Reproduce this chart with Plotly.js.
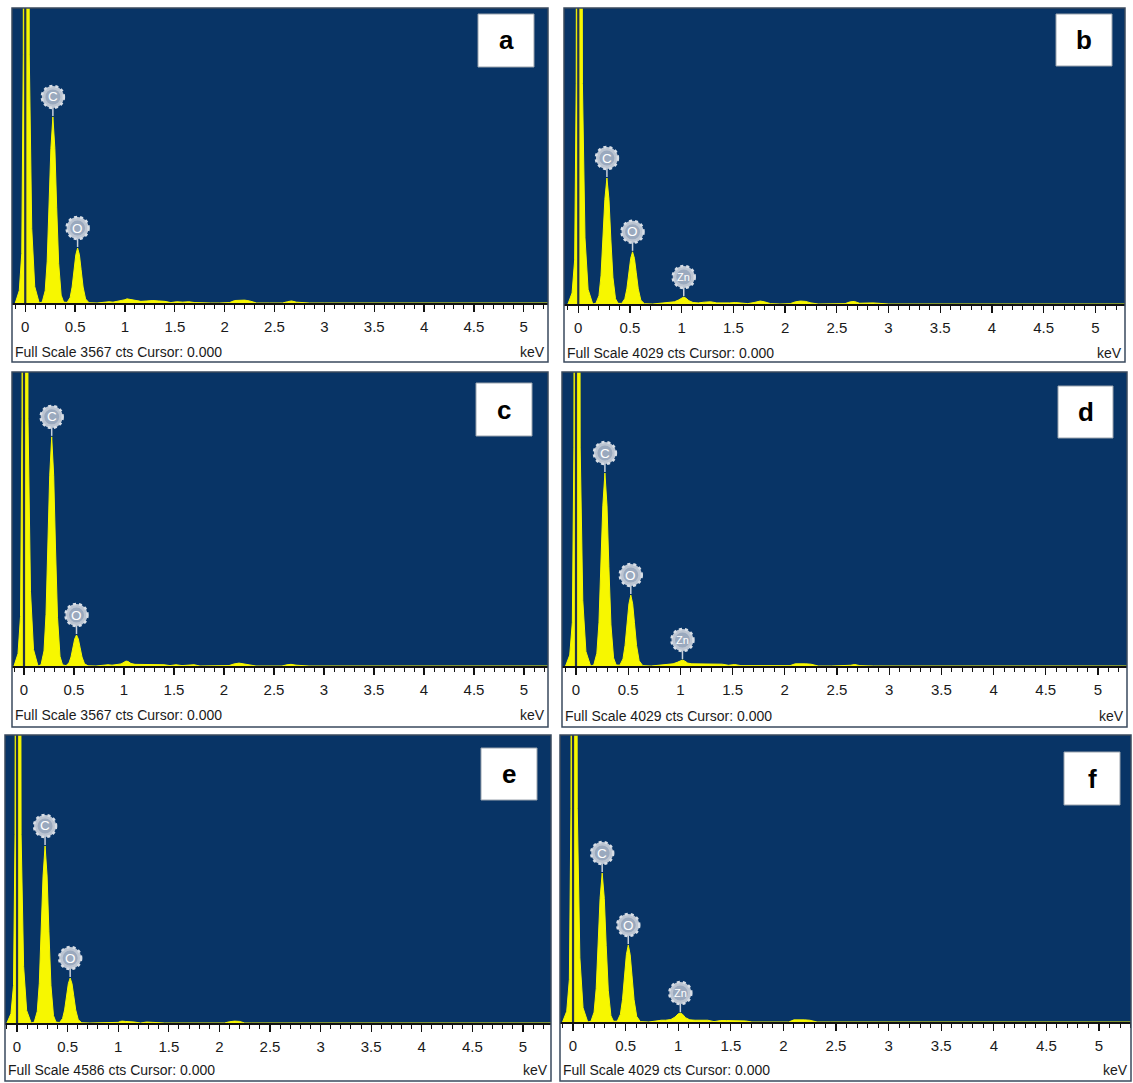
<!DOCTYPE html>
<html><head><meta charset="utf-8">
<script src="https://cdn.plot.ly/plotly-3.0.1.min.js"></script>
<style>html,body{margin:0;padding:0;background:#fff}#chart{width:1133px;height:1083px}</style>
</head><body><div id="chart"></div>
<script>
// ---- DATA (energy in keV, counts in cts) ----
const energy = [
 -0.10,-0.06,-0.035,-0.02,-0.008,0.01,0.028,0.04,0.065,0.095,0.14,
 0.17,0.20,0.22,0.24,0.257,0.277,0.297,0.315,0.335,0.36,0.385,
 0.42,0.45,0.47,0.49,0.507,0.525,0.543,0.56,0.58,0.605,0.64,
 0.72,0.80,0.84,0.88,0.93,0.97,1.0,1.02,1.04,1.07,1.11,1.16,1.22,1.28,1.34,1.40,1.46,1.52,1.58,1.64,
 1.70,1.76,1.80,1.86,1.95,2.05,2.10,2.15,2.20,2.25,2.32,2.45,2.58,2.63,2.67,2.72,2.85,3.0,3.5,4.0,4.5,5.0,5.3
];
const countsA = [
 0,150,600,3000,15000,40000,15000,3000,900,200,0,
 11,149,506,1193,1868,2250,1868,1159,479,95,11,
 7,67,193,406,583,665,583,406,193,49,3,
 0,10,15,10,20,25,40,50,45,35,25,20,25,30,25,20,5,15,10,15,
 5,0,0,0,0,5,30,35,35,25,0,0,0,15,25,10,0,0,0,0,0,0,0
];
const countsB = [
 0,150,600,3000,15000,40000,15000,3000,900,200,0,
 9,113,386,909,1423,1715,1423,883,365,72,9,
 8,71,206,433,622,710,622,433,206,52,4,
 0,10,15,20,30,55,85,95,80,45,20,15,25,30,15,10,15,20,15,5,
 20,40,30,5,0,5,30,40,35,15,0,0,5,30,35,10,15,0,0,0,0,0,0
];
const countsC = [
 0,150,600,3000,15000,40000,15000,3000,900,200,0,
 14,183,626,1473,2307,2780,2307,1432,592,117,14,
 4,38,109,229,329,376,329,229,109,27,2,
 0,10,15,10,15,25,45,60,55,30,20,20,20,20,20,15,5,15,5,10,
 15,0,0,0,0,5,25,35,25,15,0,0,0,15,20,10,0,0,0,0,0,0,0
];
const countsD = [
 0,150,600,3000,15000,40000,15000,3000,900,200,0,
 13,175,595,1401,2195,2644,2195,1362,563,111,13,
 11,97,282,593,851,972,851,593,282,71,5,
 0,15,20,25,30,50,75,82,70,40,30,30,30,30,25,25,10,20,5,5,
 10,0,0,0,0,5,30,35,30,25,0,0,0,10,20,5,0,0,0,0,0,0,0
];
const countsE = [
 0,150,600,3000,15000,40000,15000,3000,900,200,0,
 14,186,634,1494,2340,2819,2340,1452,600,118,14,
 8,72,208,437,627,716,627,437,208,52,4,
 0,0,10,5,0,0,10,25,30,25,25,15,0,15,10,0,0,0,0,0,
 0,0,0,0,0,0,20,30,25,0,0,0,0,0,0,0,0,0,0,0,0,0,0
];
const countsF = [
 0,150,600,3000,15000,40000,15000,3000,900,200,0,
 10,138,470,1108,1736,2091,1736,1077,445,88,10,
 12,108,313,659,946,1080,946,659,313,79,5,
 0,20,25,25,35,70,115,126,110,60,30,25,25,25,5,20,20,20,20,15,
 0,0,0,0,0,0,30,35,30,25,0,0,0,0,0,0,0,0,0,0,0,0,0
];
const panelIds = ['a','b','c','d','e','f'];
const fullScale = [3567,4029,3567,4029,4586,4029];
const panelLines = [['C','O'],['C','O','Zn'],['C','O'],['C','O','Zn'],['C','O'],['C','O','Zn']];
const lineEnergy = {C:0.277, O:0.525, Zn:1.012};
const tickVals = [0,0.5,1,1.5,2,2.5,3,3.5,4,4.5,5];
const tickText = ['0','0.5','1','1.5','2','2.5','3','3.5','4','4.5','5'];
const allCounts = [countsA,countsB,countsC,countsD,countsE,countsF];

// ---- LAYOUT GEOMETRY (pixels) ----
const W=1133, H=1083;
const geom = [
 {l:12, r:548, t:8,  base:303, b:362, xr:[-0.133,5.243], box:[478,534,14,67],  txtY:352},
 {l:564,r:1125,t:8,  base:304, b:362, xr:[-0.138,5.287], box:[1056,1112,14,66], txtY:353},
 {l:12, r:548, t:372,base:666, b:727, xr:[-0.12,5.24],   box:[476,532,383,436], txtY:715},
 {l:562,r:1127,t:372,base:666, b:727, xr:[-0.134,5.278], box:[1058,1113,386,438],txtY:716},
 {l:5,  r:551, t:735,base:1023,b:1081,xr:[-0.119,5.277], box:[481,537,748,800], txtY:1070},
 {l:560,r:1131,t:735,base:1022,b:1081,xr:[-0.124,5.304], box:[1064,1120,752,805],txtY:1070}
];
const px = v => v/W, py = v => 1 - v/H;
const NAVY='#083466', YEL='#f7f700';
const narrow = '"Liberation Sans Narrow","Arial Narrow","Liberation Sans",Arial,sans-serif';

const traces=[], shapes=[], annotations=[];
const layout = {width:W,height:H,margin:{l:0,r:0,t:0,b:0},paper_bgcolor:'#ffffff',plot_bgcolor:NAVY,showlegend:false};

geom.forEach((g,i)=>{
  const n = i===0 ? '' : String(i+1);
  const xa='x'+n, ya='y'+n;
  const counts = allCounts[i];
  traces.push({type:'scatter',mode:'lines',x:energy,y:counts,xaxis:xa,yaxis:ya,
    line:{color:YEL,width:1},fill:'tozeroy',fillcolor:YEL,hoverinfo:'skip'});
  layout['xaxis'+n] = {domain:[px(g.l),px(g.r)],anchor:ya,range:g.xr,showgrid:false,zeroline:false,
    showline:true,linecolor:'#111',linewidth:1.5,ticks:'outside',tickmode:'array',tickvals:tickVals,ticktext:tickText,
    ticklen:7,tickwidth:1.3,tickcolor:'#111',ticklabelstandoff:2,
    minor:{ticks:'outside',dtick:0.1,tick0:0,ticklen:4,tickwidth:1,tickcolor:'#111'},
    tickfont:{family:narrow,size:15,color:'#1a1a1a'},fixedrange:true};
  layout['yaxis'+n] = {domain:[py(g.base),py(g.t)],anchor:xa,range:[0,fullScale[i]],visible:false,showgrid:false,zeroline:false,fixedrange:true};
  // cursor line at 0.000 keV
  shapes.push({type:'line',xref:xa,yref:ya+' domain',x0:0,x1:0,y0:0,y1:1,line:{color:'#22324a',width:2.2},layer:'above'});
  // element markers
  panelLines[i].forEach(el=>{
    const E=lineEnergy[el];
    let idx=-1;
    energy.forEach((e,k)=>{ if(Math.abs(e-E)<=0.03 && (idx<0 || counts[k]>counts[idx])) idx=k; });
    const X=energy[idx], Y=counts[idx];
    const base={xref:xa,yref:ya,xsizemode:'pixel',ysizemode:'pixel',xanchor:X,yanchor:Y,layer:'above'};
    shapes.push(Object.assign({},base,{type:'line',x0:0,x1:0,y0:1,y1:10,line:{color:'#c9d1dc',width:1.5}}));
    shapes.push(Object.assign({},base,{type:'circle',x0:-11,x1:11,y0:9,y1:31,fillcolor:'#bcc5d2',line:{color:'#d8dee6',width:2.5,dash:'dot'}}));
    shapes.push(Object.assign({},base,{type:'circle',x0:-7.5,x1:7.5,y0:12.5,y1:27.5,fillcolor:'#9aa9be',line:{width:0}}));
    annotations.push({xref:xa,yref:ya,x:X,y:Y,yshift:20,showarrow:false,text:el,
      font:{family:'"Liberation Sans",Arial,sans-serif',size:el.length>1?11:13.5,color:'#ffffff'}});
  });
  // panel border
  shapes.push({type:'rect',xref:'paper',yref:'paper',x0:px(g.l),x1:px(g.r),y0:py(g.b),y1:py(g.t),line:{color:'#3a4a5e',width:1.5},fillcolor:'rgba(0,0,0,0)',layer:'above'});
  // panel letter box
  shapes.push({type:'rect',xref:'paper',yref:'paper',x0:px(g.box[0]),x1:px(g.box[1]),y0:py(g.box[3]),y1:py(g.box[2]),line:{color:'#9aa3ad',width:1},fillcolor:'#ffffff',layer:'above'});
  annotations.push({xref:'paper',yref:'paper',x:px((g.box[0]+g.box[1])/2),y:py((g.box[2]+g.box[3])/2),
    xanchor:'center',yanchor:'middle',showarrow:false,text:'<b>'+panelIds[i]+'</b>',
    font:{family:'"Liberation Sans",Arial,sans-serif',size:26,color:'#000'}});
  // footer texts
  annotations.push({xref:'paper',yref:'paper',x:px(g.l+1),y:py(g.txtY),xanchor:'left',yanchor:'middle',showarrow:false,
    text:'Full Scale '+fullScale[i]+' cts Cursor: 0.000',font:{family:narrow,size:14,color:'#1a1a1a'}});
  annotations.push({xref:'paper',yref:'paper',x:px(g.r-1),y:py(g.txtY),xanchor:'right',yanchor:'middle',showarrow:false,
    text:'keV',font:{family:narrow,size:14,color:'#1a1a1a'}});
});
layout.shapes=shapes; layout.annotations=annotations;
Plotly.newPlot('chart',traces,layout,{displayModeBar:false,staticPlot:true});
</script></body></html>
